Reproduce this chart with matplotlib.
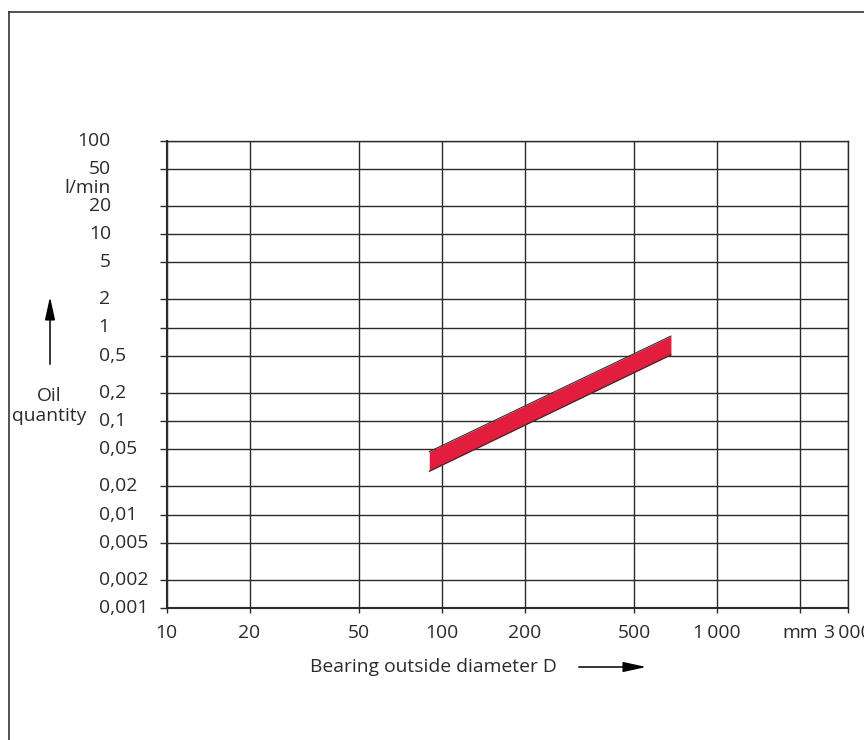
import matplotlib
matplotlib.use('Agg')
import matplotlib.pyplot as plt
from matplotlib.lines import Line2D
import numpy as np

plt.rcParams['font.family'] = ['Open Sans', 'DejaVu Sans']

# data
x_ticks = [10, 20, 50, 100, 200, 500, 1000, 2000, 3000]
x_labels = ['10', '20', '50', '100', '200', '500', '1\u2009000', 'mm', '3\u2009000']
y_ticks = [100, 50, 20, 10, 5, 2, 1, 0.5, 0.2, 0.1, 0.05, 0.02, 0.01, 0.005, 0.002, 0.001]
y_labels = ['100', '50', '20', '10', '5', '2', '1', '0,5', '0,2', '0,1', '0,05',
            '0,02', '0,01', '0,005', '0,002', '0,001']
band_d = [90, 680]
band_upper = [0.047, 0.81]
band_lower = [0.029, 0.51]

ink = '#2b2b2b'
fs = 13.9
W, H = 864, 740

fig = plt.figure(figsize=(W / 100, H / 100), dpi=100)
ax = fig.add_axes([166.7 / W, 1 - 608 / H, (848.3 - 166.7) / W, (608 - 140.5) / H])
ax.set_xscale('log')
ax.set_yscale('log')
ax.set_xlim(10, 3000)
ax.set_ylim(0.001, 100)

# grid
for xv in x_ticks:
    ax.axvline(xv, color=ink, lw=1.0, zorder=1)
for yv in y_ticks:
    ax.axhline(yv, color=ink, lw=1.0, zorder=1)

# red band
ax.fill_between(band_d, band_lower, band_upper, color='#e21d3d', lw=0, zorder=3)
ax.plot(band_d, band_upper, color='#3a2a2a', lw=0.8, zorder=4)
ax.plot(band_d, band_lower, color='#3a2a2a', lw=0.8, zorder=4)

ax.minorticks_off()
ax.set_xticks(x_ticks)
ax.set_xticklabels(x_labels)
ax.set_yticks(y_ticks)
ax.set_yticklabels([])
ax.tick_params(axis='x', direction='out', length=3.6, width=1.0, color=ink,
               labelsize=fs, labelcolor=ink, pad=8)
ax.tick_params(axis='y', direction='out', length=5, width=1.0, color=ink)
for s in ['top', 'right']:
    ax.spines[s].set_linewidth(1.0)
    ax.spines[s].set_color(ink)
for s in ['left', 'bottom']:
    ax.spines[s].set_linewidth(1.5)
    ax.spines[s].set_color(ink)

# y tick labels: upper ones right-aligned, lower ones left-aligned
ytr = ax.get_yaxis_transform()
xr = (111 - 166.7) / (848.3 - 166.7)
xl = (98.5 - 166.7) / (848.3 - 166.7)
for yv, lab in zip(y_ticks, y_labels):
    if yv >= 5:
        ax.text(xr, yv, lab, transform=ytr, ha='right', va='center', fontsize=fs, color=ink)
    else:
        ax.text(xl, yv, lab, transform=ytr, ha='left', va='center', fontsize=fs, color=ink)
ax.text(xr, 31, 'l/min', transform=ytr, ha='right', va='center', fontsize=fs, color=ink)

# axis captions with arrows
fig.text(49 / W, 1 - 406 / H, 'Oil\nquantity', ha='center', va='center', fontsize=fs,
         color=ink, linespacing=1.15)
fig.patches.append(matplotlib.patches.FancyArrowPatch(
    (50 / W, 1 - 367 / H), (50 / W, 1 - 294 / H), transform=fig.transFigure,
    arrowstyle='-|>,head_length=1.0,head_width=0.22', mutation_scale=14, color='black', lw=1.1))
fig.text(433.5 / W, 1 - 667 / H, 'Bearing outside diameter D', ha='center', va='center',
         fontsize=fs, color=ink)
fig.patches.append(matplotlib.patches.FancyArrowPatch(
    (576 / W, 1 - 667 / H), (649 / W, 1 - 667 / H), transform=fig.transFigure,
    arrowstyle='-|>,head_length=1.0,head_width=0.22', mutation_scale=14, color='black', lw=1.1))

# outer frame (left and top edges visible)
fl, ft = 9 / W, 1 - 12 / H
fig.add_artist(Line2D([fl, fl], [0, ft], transform=fig.transFigure, color='#333333', lw=1.2))
fig.add_artist(Line2D([fl, 1], [ft, ft], transform=fig.transFigure, color='#333333', lw=1.2))

fig.savefig('out.png', dpi=100)
